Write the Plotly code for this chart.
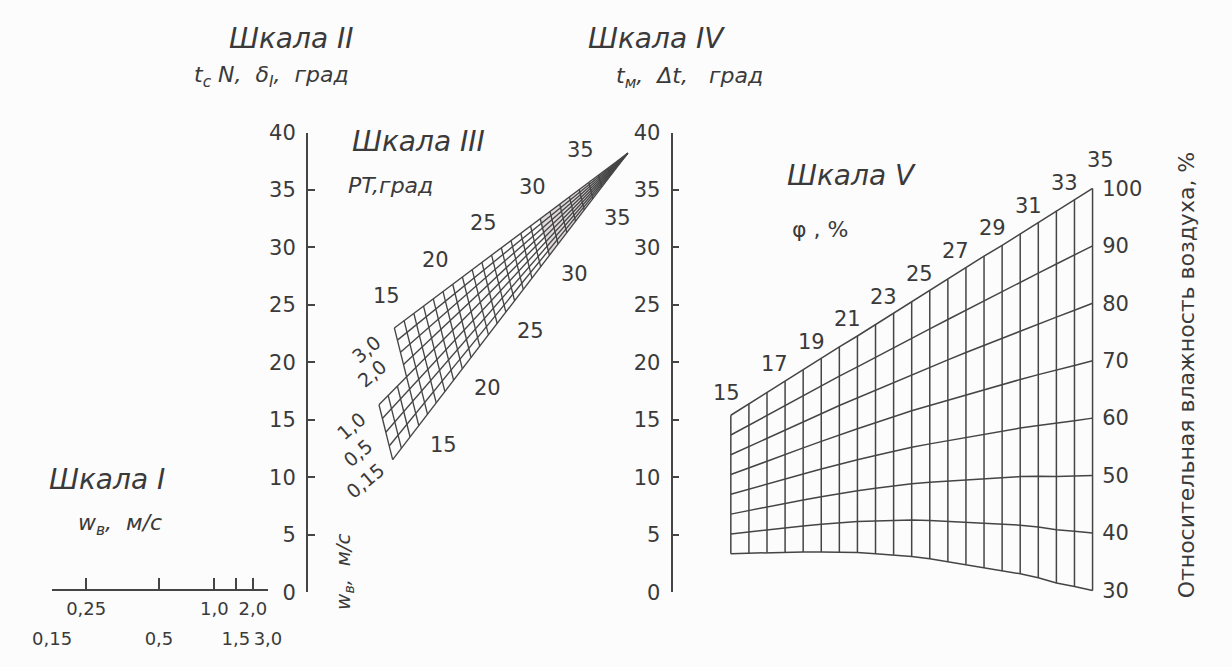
import plotly.graph_objects as go

W, H = 1232, 667

# ---------------- data ----------------
# Scale I : air velocity w_в, m/s (functional scale, reading 0..1 along the scale)
w_ticks = [0.15, 0.25, 0.5, 1.0, 1.5, 2.0, 3.0]
w_scale_reading = [0.0, 0.158, 0.495, 0.752, 0.851, 0.930, 1.0]
w_upper_vals = [0.158, 0.752, 0.930]
w_upper_text = ["0,25", "1,0", "2,0"]
w_lower_vals = [0.0, 0.495, 0.851, 1.0]
w_lower_text = ["0,15", "0,5", "1,5", "3,0"]

# Scales II and IV : degrees
deg_ticks = [0, 5, 10, 15, 20, 25, 30, 35, 40]

# Scale III : grid of air velocity rows and PT cross lines
w_rows = [0.15, 0.25, 0.5, 0.75, 1.0, 1.5, 2.0, 2.5, 3.0]
w_row_text = ["0,15", "", "0,5", "", "1,0", "", "2,0", "", "3,0"]
w_row_pt_start = [12, 12, 12, 12, 12, 15, 15, 15, 15]
pt_lines = list(range(12, 39))
pt_apex = 39
pt_marked = [15, 20, 25, 30, 35]
pt_dense = [30, 37]          # dense (shaded) part of the grid near the apex
# edge readings: u = position between scale II (0) and scale IV (1); deg = reading on scales II/IV
edge_pt = [15, 39]
lower_edge_u = [0.307, 0.88]
lower_edge_deg = [14.5, 38.2]
upper_edge_u = [0.24, 0.88]
upper_edge_deg = [23.0, 38.2]

# Scale V : grid of temperature columns and relative humidity curves
t_cols = list(range(15, 36))
t_marked = [15, 17, 19, 21, 23, 25, 27, 29, 31, 33, 35]
phi_levels = [30, 40, 50, 60, 70, 80, 90, 100]
phi30_edge = [36.4, 36.5, 36.6, 36.7, 36.7, 36.7, 36.7, 36.6, 36.4, 36.2, 35.9,
              35.5, 35.0, 34.5, 33.9, 33.4, 32.9, 32.2, 31.3, 30.7, 30.0]
phi100_edge = [60.5, 62.5, 64.5, 66.4, 68.4, 70.4, 72.4, 74.3, 76.3, 78.3, 80.3,
               82.2, 84.2, 86.2, 88.2, 90.1, 92.1, 94.1, 96.1, 98.0, 100.0]

# ---------------- styling ----------------
FONT = "DejaVu Sans"
TXT = "#3a3a3a"
LINE = "#454545"
BG = "#fcfcfc"
TICK_SIZE = 21
TITLE_SIZE = 28
SUB_SIZE = 22


def fx(px):
    return px / W


def fy(py):
    return 1 - py / H


# layout anchors (pixels)
II_X, IV_X = 295, 670
DEG0_Y, DEG40_Y = 602, 125
T15_X, T35_X = 731, 1103
PHI30_Y, PHI100_Y = 600, 183
S1_L, S1_R, S1_Y = 33, 255, 600

fig = go.Figure()

# ---------- Scale III grid ----------
n_rows = len(w_rows) - 1


def edge_point(p, us, vs):
    f = (p - edge_pt[0]) / (edge_pt[1] - edge_pt[0])
    return us[0] + f * (us[1] - us[0]), vs[0] + f * (vs[1] - vs[0])


def node(j, p):
    lu, lv = edge_point(p, lower_edge_u, lower_edge_deg)
    uu, uv = edge_point(p, upper_edge_u, upper_edge_deg)
    f = j / n_rows
    return lu + f * (uu - lu), lv + f * (uv - lv)


# light shading of the dense part near the apex
sx, sy = [], []
for p in range(pt_dense[0], pt_dense[1] + 1):
    u, v = node(0, p)
    sx.append(u)
    sy.append(v)
for p in range(pt_dense[1], pt_dense[0] - 1, -1):
    u, v = node(n_rows, p)
    sx.append(u)
    sy.append(v)
fig.add_trace(go.Scatter(x=sx, y=sy, mode="lines", fill="toself",
                         fillcolor="rgba(150,125,138,0.28)", line=dict(width=0),
                         xaxis="x", yaxis="y", hoverinfo="skip", showlegend=False))

gx, gy = [], []
for j, w in enumerate(w_rows):
    for p in range(w_row_pt_start[j], pt_apex + 1):
        u, v = node(j, p)
        gx.append(u)
        gy.append(v)
    gx.append(None)
    gy.append(None)
for p in pt_lines:
    js = [j for j in range(len(w_rows)) if w_row_pt_start[j] <= p]
    for j in (min(js), max(js)):
        u, v = node(j, p)
        gx.append(u)
        gy.append(v)
    gx.append(None)
    gy.append(None)

fig.add_trace(go.Scatter(x=gx, y=gy, mode="lines", xaxis="x", yaxis="y",
                         line=dict(color=LINE, width=1.35), hoverinfo="skip",
                         showlegend=False))

# ---------- Scale V grid ----------
vx, vy = [], []
for phi in phi_levels:
    f = (phi - 30) / 70
    for i, t in enumerate(t_cols):
        vx.append(t)
        vy.append(phi30_edge[i] + f * (phi100_edge[i] - phi30_edge[i]))
    vx.append(None)
    vy.append(None)
for i, t in enumerate(t_cols):
    vx += [t, t, None]
    vy += [phi30_edge[i], phi100_edge[i], None]

fig.add_trace(go.Scatter(x=vx, y=vy, mode="lines", xaxis="x2", yaxis="y3",
                         line=dict(color=LINE, width=1.5), hoverinfo="skip",
                         showlegend=False))

# invisible helpers so every axis gets drawn
for xa, ya in (("x", "y2"), ("x3", "y"), ("x4", "y"), ("x5", "y")):
    fig.add_trace(go.Scatter(x=[0.5], y=[20], xaxis=xa, yaxis=ya, mode="markers",
                             marker=dict(opacity=0), hoverinfo="skip", showlegend=False))

tickfont = dict(family=FONT, size=TICK_SIZE, color=TXT)
s1font = dict(family=FONT, size=18, color=TXT)

# main x axis: position between scale II (u=0) and scale IV (u=1)
span = IV_X - II_X
xaxis = dict(domain=[0, 1], range=[-II_X / span, (W - II_X) / span], visible=False,
             fixedrange=True)

deg_axis = dict(domain=[fy(DEG0_Y), fy(DEG40_Y)], range=[0, 40], anchor="free",
                side="left", ticks="inside", ticklen=7, tickwidth=1.6, tickcolor=LINE,
                showline=True, linewidth=1.8, linecolor=LINE, tickvals=deg_ticks,
                showgrid=False, zeroline=False, tickfont=tickfont,
                ticklabelstandoff=6, fixedrange=True)
yaxis = dict(deg_axis, position=fx(II_X))
yaxis2 = dict(deg_axis, position=fx(IV_X), overlaying="y")

# scale V axes
t_pad, phi_pad = 0.2, 0.5
t_pp = (T35_X - T15_X) / 20
phi_pp = (PHI30_Y - PHI100_Y) / 70
xaxis2 = dict(domain=[fx(T15_X - t_pad * t_pp), fx(T35_X + t_pad * t_pp)],
              range=[15 - t_pad, 35 + t_pad], anchor="y3", visible=False, fixedrange=True)
yaxis3 = dict(domain=[fy(PHI30_Y + phi_pad * phi_pp), fy(PHI100_Y - phi_pad * phi_pp)],
              range=[30 - phi_pad, 100 + phi_pad], anchor="x2", side="right",
              showline=False, ticks="", tickvals=phi_levels, showgrid=False,
              zeroline=False, tickfont=tickfont, ticklabelstandoff=5, fixedrange=True)

# scale I axes: line + ticks, then two rows of labels
s1_dom = [fx(S1_L), fx(S1_R)]
s1_common = dict(domain=s1_dom, range=[0, 1], anchor="free", position=fy(S1_Y),
                 side="bottom", showgrid=False, zeroline=False, fixedrange=True)
xaxis3 = dict(s1_common, ticks="inside", ticklen=12, tickwidth=1.6, tickcolor=LINE,
              showline=True, linewidth=1.8, linecolor=LINE, tickvals=w_scale_reading,
              showticklabels=False)
xaxis4 = dict(s1_common, overlaying="x3", ticks="", showline=False,
              tickvals=w_upper_vals, ticktext=w_upper_text, tickfont=s1font,
              tickangle=0, ticklabelstandoff=6)
xaxis5 = dict(s1_common, overlaying="x3", ticks="", showline=False,
              tickvals=w_lower_vals, ticktext=w_lower_text, tickfont=s1font,
              tickangle=0, ticklabelstandoff=36)

annotations = []


def paper_text(text, x, y, size, italic=True, angle=0):
    annotations.append(dict(text=f"<i>{text}</i>" if italic else text,
                            x=fx(x), y=fy(y), xref="paper", yref="paper",
                            showarrow=False, xanchor="center", yanchor="middle",
                            textangle=angle,
                            font=dict(family=FONT, size=size, color=TXT)))


paper_text("Шкала II", 279, 27, TITLE_SIZE)
paper_text("t<sub>c</sub> N,  δ<sub>I</sub>,  град", 259, 67, SUB_SIZE)
paper_text("Шкала III", 410, 134, TITLE_SIZE)
paper_text("PT,град", 381, 180, SUB_SIZE)
paper_text("Шкала IV", 655, 28, TITLE_SIZE)
paper_text("t<sub>м</sub>,  Δt,   град", 689, 68, SUB_SIZE)
paper_text("Шкала V", 855, 170, TITLE_SIZE)
paper_text("φ , %", 823, 226, SUB_SIZE, italic=False)
paper_text("Шкала I", 89, 485, TITLE_SIZE)
paper_text("w<sub>в</sub>,  м/с", 103, 532, SUB_SIZE)
paper_text("w<sub>в</sub>,  м/с", 333, 580, 20, angle=-90)
paper_text("Относительная влажность воздуха, %", 1200, 376, 22, italic=False, angle=-90)

# scale III labels
for p in pt_marked:
    u, v = edge_point(p, upper_edge_u, upper_edge_deg)
    annotations.append(dict(text=str(p), x=u, y=v, xref="x", yref="y", showarrow=False,
                            xshift=-8, yshift=32, font=tickfont))
    u, v = edge_point(p, lower_edge_u, lower_edge_deg)
    annotations.append(dict(text=str(p), x=u, y=v, xref="x", yref="y", showarrow=False,
                            xshift=25, yshift=-19, font=tickfont))
for j, txt in enumerate(w_row_text):
    if txt:
        u, v = node(j, w_row_pt_start[j])
        annotations.append(dict(text=txt, x=u, y=v, xref="x", yref="y", showarrow=False,
                                xshift=-28, yshift=-21, textangle=-40,
                                font=dict(family=FONT, size=19, color=TXT)))

# scale V temperature labels
for t in t_marked:
    i = t_cols.index(t)
    annotations.append(dict(text=str(t), x=t, y=phi100_edge[i], xref="x2", yref="y3",
                            showarrow=False, xshift=(-4 if t == t_cols[0] else 8),
                            yshift=(22 if t == t_cols[0] else 28), font=tickfont))

fig.update_layout(
    width=W, height=H, margin=dict(l=0, r=0, t=0, b=0),
    paper_bgcolor=BG, plot_bgcolor="rgba(0,0,0,0)",
    xaxis=xaxis, yaxis=yaxis, yaxis2=yaxis2,
    xaxis2=xaxis2, yaxis3=yaxis3, xaxis3=xaxis3, xaxis4=xaxis4, xaxis5=xaxis5,
    annotations=annotations, showlegend=False, hovermode=False,
)

fig.write_html("out.html", config={"displayModeBar": False},
               post_script="document.body.style.margin='0px';")
